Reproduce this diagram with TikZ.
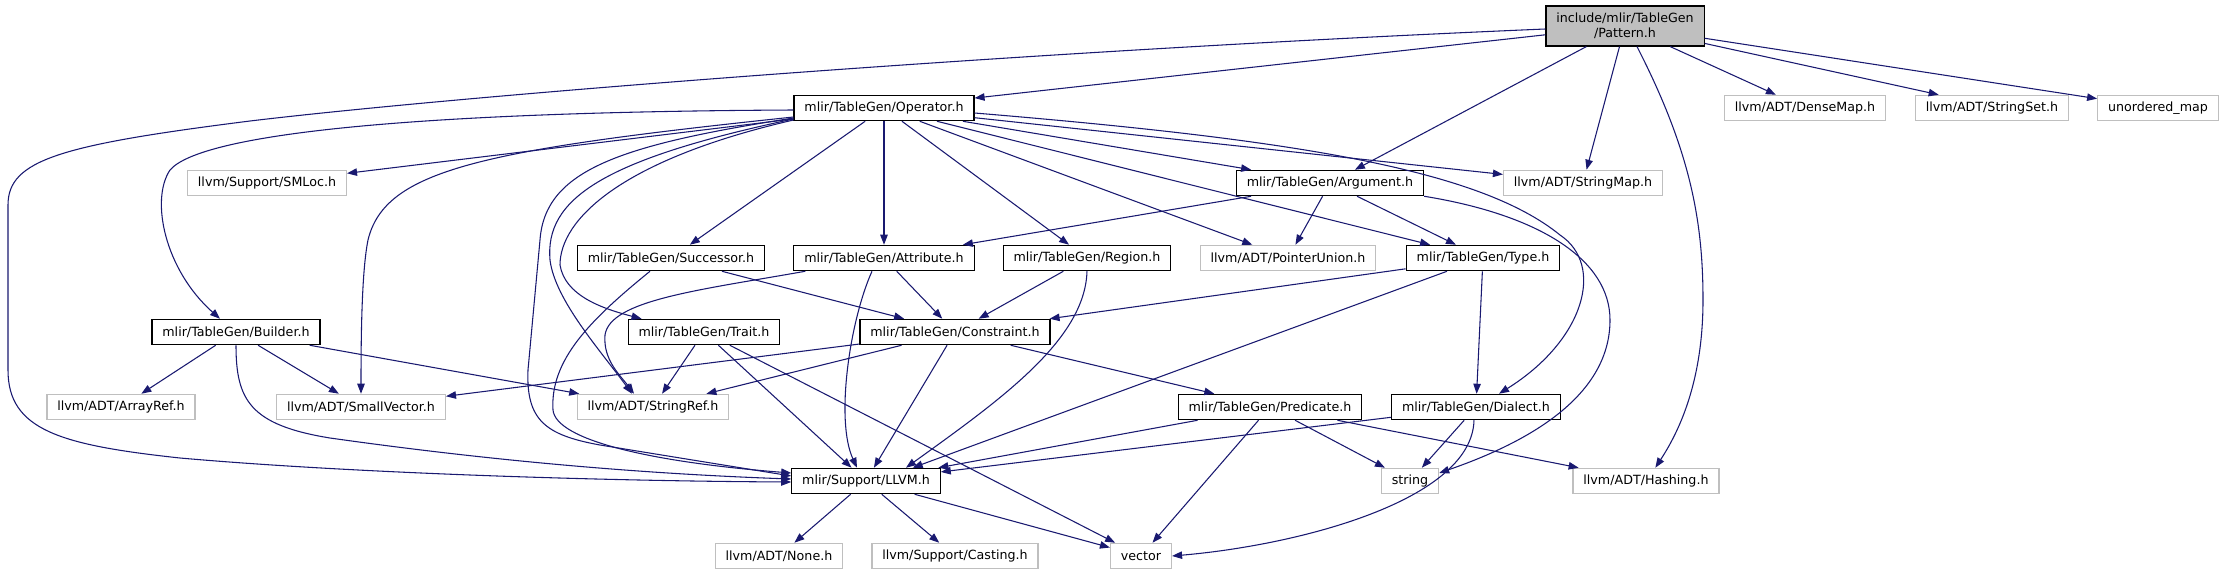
\documentclass[tikz,border=0pt]{standalone}
\usepackage{fontspec}
\setmainfont{DejaVu Sans}
\usepackage{tikz}
\usetikzlibrary{positioning, arrows.meta}
\definecolor{cEdge}{HTML}{191970}
\definecolor{cMain}{HTML}{BFBFBF}
\definecolor{cExt}{HTML}{BFBFBF}
\tikzset{
  docfile/.style={
    draw=black, line width=0.9pt,
    fill=white,
    inner xsep=7.8pt, inner ysep=0pt,
    minimum height=19pt,
    font=\fontsize{9.5pt}{11pt}\selectfont
  },
  extfile/.style={
    docfile,
    draw=cExt
  },
  mainfile/.style={
    docfile,
    fill=cMain,
    align=center,
    minimum height=30pt
  },
  include/.style={
    -{Triangle[length=7.5pt,width=5.6pt]},
    line width=0.8pt,
    draw=cEdge
  }
}

\begin{document}
\begin{tikzpicture}[x=0.75pt, y=-0.75pt]
  \useasboundingbox (0,0) rectangle (2225,575);

  \node[mainfile] (pattern) at (1625,26) {include/mlir/TableGen\\/Pattern.h};

  \node[docfile] (operator) at (884,108) {mlir/TableGen/Operator.h};
  \node[extfile] (densemap) at (1805,108) {llvm/ADT/DenseMap.h};
  \node[extfile] (stringset) at (1992,108) {llvm/ADT/StringSet.h};
  \node[extfile] (unordmap) at (2158,108) {unordered\_map};

  \node[extfile] (smloc) at (267,183) {llvm/Support/SMLoc.h};
  \node[docfile] (argument) at (1330,183) {mlir/TableGen/Argument.h};
  \node[extfile] (stringmap) at (1583,183) {llvm/ADT/StringMap.h};

  \node[docfile] (successor) at (671,258) {mlir/TableGen/Successor.h};
  \node[docfile] (attribute) at (884,258) {mlir/TableGen/Attribute.h};
  \node[docfile] (region) at (1087,258) {mlir/TableGen/Region.h};
  \node[extfile] (ptrunion) at (1288,258) {llvm/ADT/PointerUnion.h};
  \node[docfile] (typeh) at (1483,258) {mlir/TableGen/Type.h};

  \node[docfile] (builder) at (236,332) {mlir/TableGen/Builder.h};
  \node[docfile] (trait) at (704,332) {mlir/TableGen/Trait.h};
  \node[docfile] (constraint) at (955,332) {mlir/TableGen/Constraint.h};

  \node[extfile] (arrayref) at (121,407) {llvm/ADT/ArrayRef.h};
  \node[extfile] (smallvec) at (361,407) {llvm/ADT/SmallVector.h};
  \node[extfile] (stringref) at (653,407) {llvm/ADT/StringRef.h};
  \node[docfile] (predicate) at (1270,407) {mlir/TableGen/Predicate.h};
  \node[docfile] (dialect) at (1476,407) {mlir/TableGen/Dialect.h};

  \node[docfile] (llvm) at (866,481) {mlir/Support/LLVM.h};
  \node[extfile] (stdstring) at (1410,481) {string};
  \node[extfile] (hashing) at (1646,481) {llvm/ADT/Hashing.h};

  \node[extfile] (noneh) at (779,556) {llvm/ADT/None.h};
  \node[extfile] (casting) at (955,556) {llvm/Support/Casting.h};
  \node[extfile] (stdvector) at (1141,556) {vector};

  % Pattern.h
  \draw[include] (pattern) -- (operator);
  \draw[include] (pattern) -- (argument);
  \draw[include] (pattern) -- (stringmap);
  \draw[include] (pattern) -- (densemap);
  \draw[include] (pattern) -- ([xshift=-40pt]stringset.north);
  \draw[include] (pattern) -- (unordmap);
  \draw[include] ([xshift=9pt]pattern.south) .. controls (1690,150) and (1703,220) .. (1703,300) .. controls (1703,380) and (1680,430) .. ([xshift=7pt]hashing.north);
  \draw[include] ([yshift=-2.25pt]pattern.west) .. controls (1000,52) and (450,97) .. (250,121) .. controls (60,145) and (8,160) .. (8,205) -- (8,370) .. controls (8,430) and (60,445) .. (180,458) .. controls (350,473) and (600,481) .. ([yshift=-0.75pt]llvm.west);

  % Operator.h
  \draw[include] (operator) -- (smloc);
  \draw[include] (operator) -- (successor);
  \draw[include] (operator) -- (attribute);
  \draw[include] (operator) -- (region);
  \draw[include] (operator) -- (ptrunion);
  \draw[include] (operator) -- (typeh);
  \draw[include] (operator) -- (argument);
  \draw[include] (operator) -- (stringmap);
  \draw[include] ([yshift=-1.5pt]operator.west) .. controls (400,112) and (200,135) .. (170,170) .. controls (150,200) and (165,270) .. ([xshift=-12pt]builder.north);
  \draw[include] ([yshift=-6.75pt]operator.west) .. controls (480,150) and (385,170) .. (368,240) .. controls (362,270) and (361,330) .. (smallvec.north);
  \draw[include] ([yshift=-7.5pt]operator.west) .. controls (620,145) and (545,170) .. (540,240) -- (528,370) .. controls (526,420) and (545,435) .. (600,445) -- ([yshift=3.75pt]llvm.west);
  \draw[include] ([yshift=-8.25pt]operator.west) .. controls (600,160) and (545,200) .. (550,260) .. controls (555,300) and (600,350) .. ([xshift=-15.75pt]stringref.north);
  \draw[include] ([yshift=-9pt]operator.west) .. controls (620,160) and (560,220) .. (560,265) .. controls (565,295) and (600,308) .. ([xshift=10.5pt]trait.north west);
  \draw[include] ([yshift=-3.75pt]operator.east) .. controls (1300,140) and (1480,170) .. (1560,235) .. controls (1605,265) and (1585,340) .. ([xshift=17.25pt]dialect.north);

  % Argument.h
  \draw[include] (argument) -- (attribute);
  \draw[include] (argument) -- (ptrunion);
  \draw[include] (argument) -- (typeh);
  \draw[include] (argument.south east) .. controls (1540,215) and (1610,260) .. (1610,320) .. controls (1610,400) and (1520,445) .. ([yshift=6pt]stdstring.east);

  % Successor.h, Attribute.h, Region.h, Type.h
  \draw[include] (successor) -- (constraint);
  \draw[include] ([xshift=-15.75pt]successor.south) .. controls (590,320) and (550,360) .. (553,410) .. controls (556,440) and (650,462) .. ([yshift=6pt]llvm.west);
  \draw[include] (attribute) -- (constraint);
  \draw[include] ([xshift=-9pt]attribute.south) .. controls (850,320) and (835,420) .. ([xshift=-6.75pt]llvm.north);
  \draw[include] ([xshift=9pt]attribute.south west) .. controls (700,290) and (610,300) .. (605,335) .. controls (603,360) and (620,375) .. ([xshift=-14.25pt]stringref.north);
  \draw[include] (region) -- (constraint);
  \draw[include] (region.south) .. controls (1085,340) and (1000,400) .. ([xshift=30pt]llvm.north);
  \draw[include] (typeh) -- (constraint);
  \draw[include] (typeh) -- ([xshift=35pt]llvm.north);
  \draw[include] (typeh) -- (dialect);

  % Builder.h, Trait.h, Constraint.h
  \draw[include] (builder) -- (arrayref);
  \draw[include] (builder) -- (smallvec);
  \draw[include] (builder) -- (stringref);
  \draw[include] (builder.south) .. controls (236,400) and (250,425) .. (330,438) .. controls (500,462) and (650,474) .. ([yshift=1.5pt]llvm.west);
  \draw[include] (trait) -- (stringref);
  \draw[include] (trait) -- (llvm);
  \draw[include] (trait) -- (stdvector);
  \draw[include] (constraint) -- (smallvec);
  \draw[include] (constraint) -- (stringref);
  \draw[include] (constraint) -- (llvm);
  \draw[include] (constraint) -- (predicate);

  % Predicate.h, Dialect.h, LLVM.h
  \draw[include] (predicate) -- (llvm);
  \draw[include] (predicate) -- (stdvector);
  \draw[include] (predicate) -- (stdstring);
  \draw[include] (predicate) -- (hashing);
  \draw[include] (dialect) -- (llvm);
  \draw[include] (dialect) -- (stdstring);
  \draw[include] ([xshift=-1.5pt]dialect.south) .. controls (1472,500) and (1300,545) .. (stdvector.east);
  \draw[include] (llvm) -- (noneh);
  \draw[include] (llvm) -- (casting);
  \draw[include] (llvm) -- (stdvector);
\end{tikzpicture}
\end{document}
